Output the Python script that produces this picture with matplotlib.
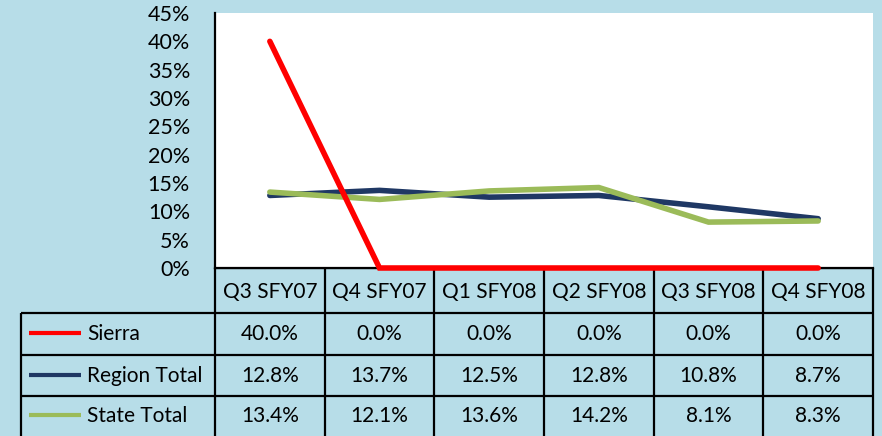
import matplotlib
matplotlib.use("Agg")
import matplotlib.pyplot as plt

quarters = ["Q3 SFY07", "Q4 SFY07", "Q1 SFY08", "Q2 SFY08", "Q3 SFY08", "Q4 SFY08"]
sierra = [40.0, 0.0, 0.0, 0.0, 0.0, 0.0]
region_total = [12.8, 13.7, 12.5, 12.8, 10.8, 8.7]
state_total = [13.4, 12.1, 13.6, 14.2, 8.1, 8.3]
series_names = ["Sierra", "Region Total", "State Total"]
series_colors = ["#FF0000", "#1F3864", "#9BBB59"]
y_ticks = [0, 5, 10, 15, 20, 25, 30, 35, 40, 45]

BG = "#B7DDE8"
W, H = 882, 436
plt.rcParams["font.family"] = ["Lato", "DejaVu Sans"]
FS = 15

fig = plt.figure(figsize=(W / 100, H / 100), dpi=100, facecolor=BG)

# plot area in pixel terms
left, right, top, bottom = 215, 873, 13, 268
ax = fig.add_axes([left / W, (H - bottom) / H, (right - left) / W, (bottom - top) / H], zorder=2)
ax.set_facecolor("white")

x = list(range(len(quarters)))
all_series = [sierra, region_total, state_total]
for vals, c, z in zip(all_series, series_colors, [4, 3, 3.5]):
    ax.plot(x, vals, color=c, lw=4, solid_capstyle="round", solid_joinstyle="miter",
            zorder=z, clip_on=False)

ax.set_xlim(-0.5, len(quarters) - 0.5)
ax.set_ylim(0, 45)
ax.set_yticks(y_ticks)
ax.set_yticklabels([f"{t}%" for t in y_ticks], fontsize=FS + 0.5)
ax.set_xticks([])
ax.tick_params(axis="y", length=0, pad=18)
for s in ["top", "right"]:
    ax.spines[s].set_visible(False)
ax.spines["left"].set_linewidth(1.6)
ax.spines["bottom"].set_linewidth(1.6)

# data table under the plot, drawn in pixel coordinates
tab = fig.add_axes([0, 0, 1, 1], zorder=1)
tab.set_xlim(0, W)
tab.set_ylim(H, 0)
tab.axis("off")
tab.patch.set_alpha(0)

col_w = (right - left) / len(quarters)
col_edges = [left + i * col_w for i in range(len(quarters) + 1)]
row_edges = [bottom, 313, 355, 396, H + 2]
table_left = 21
lw = 1.6

tab.hlines(row_edges[0], left, right, color="black", lw=lw)
for y in row_edges[1:4]:
    tab.hlines(y, table_left, right, color="black", lw=lw)
tab.vlines(table_left, row_edges[1], row_edges[-1], color="black", lw=lw)
for xe in col_edges:
    tab.vlines(xe, row_edges[0], row_edges[-1], color="black", lw=lw)

for i, q in enumerate(quarters):
    cx = (col_edges[i] + col_edges[i + 1]) / 2
    tab.text(cx, (row_edges[0] + row_edges[1]) / 2 + 1, q, ha="center", va="center", fontsize=FS)

for r, (name, vals, c) in enumerate(zip(series_names, all_series, series_colors)):
    cy = (row_edges[r + 1] + row_edges[r + 2]) / 2
    if r == 2:
        cy = (row_edges[3] + H) / 2
    tab.plot([29, 81], [cy - 1, cy - 1], color=c, lw=3, solid_capstyle="butt")
    tab.text(87, cy, name, ha="left", va="center", fontsize=FS)
    for i, v in enumerate(vals):
        cx = (col_edges[i] + col_edges[i + 1]) / 2
        tab.text(cx, cy, f"{v:.1f}%", ha="center", va="center", fontsize=FS)

fig.savefig("out.png", dpi=100, facecolor=BG)
